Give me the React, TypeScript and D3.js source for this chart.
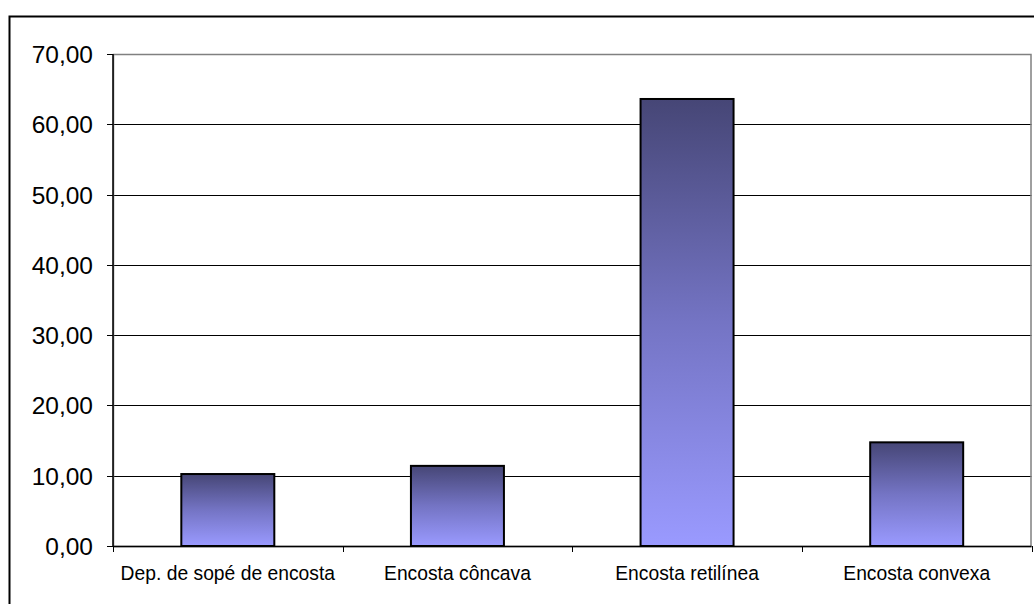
import React, { useEffect, useRef } from "react";
import * as d3 from "d3";

const categories = [
  "Dep. de sopé de encosta",
  "Encosta côncava",
  "Encosta retilínea",
  "Encosta convexa",
];
const values = [10.24, 11.4, 63.6, 14.75];
const yTicks = [0, 10, 20, 30, 40, 50, 60, 70];

export default function App() {
  const ref = useRef<SVGSVGElement | null>(null);

  useEffect(() => {
    const width = 1034;
    const height = 604;
    const left = 113;
    const right = 1031.5;
    const top = 54;
    const bottom = 546;

    const svg = d3.select(ref.current).html(null);

    const defs = svg.append("defs");
    const grad = defs
      .append("linearGradient")
      .attr("id", "barGrad")
      .attr("x1", 0)
      .attr("y1", 0)
      .attr("x2", 0)
      .attr("y2", 1);
    grad.append("stop").attr("offset", "0%").attr("stop-color", "#464676");
    grad.append("stop").attr("offset", "50%").attr("stop-color", "#7474c4");
    grad.append("stop").attr("offset", "100%").attr("stop-color", "#9a9aff");

    // outer chart frame (right and bottom edges cut off)
    svg
      .append("rect")
      .attr("x", 9.5)
      .attr("y", 16.5)
      .attr("width", width + 20)
      .attr("height", height + 20)
      .attr("fill", "white")
      .attr("stroke", "black")
      .attr("stroke-width", 2);

    const x = d3.scaleBand().domain(categories).range([left, right]).paddingInner(0.595).paddingOuter(0.2975);
    const y = d3.scaleLinear().domain([0, 70]).range([bottom, top]);

    // gridlines
    svg
      .append("g")
      .selectAll("line")
      .data(yTicks.slice(1, -1))
      .enter()
      .append("line")
      .attr("x1", left)
      .attr("x2", right)
      .attr("y1", (d) => Math.round(y(d)) + 0.5)
      .attr("y2", (d) => Math.round(y(d)) + 0.5)
      .attr("stroke", "black")
      .attr("stroke-width", 1);

    // plot area border
    svg
      .append("rect")
      .attr("x", left + 0.5)
      .attr("y", top + 0.5)
      .attr("width", right - left - 1)
      .attr("height", bottom - top)
      .attr("fill", "none")
      .attr("stroke", "#808080")
      .attr("stroke-width", 1.5);

    // bars
    svg
      .append("g")
      .selectAll("rect")
      .data(values)
      .enter()
      .append("rect")
      .attr("x", (d, i) => x(categories[i])!)
      .attr("y", (d) => y(d))
      .attr("width", x.bandwidth())
      .attr("height", (d) => bottom - y(d))
      .attr("fill", "url(#barGrad)")
      .attr("stroke", "black")
      .attr("stroke-width", 2);

    // y axis
    svg
      .append("line")
      .attr("x1", left)
      .attr("x2", left)
      .attr("y1", top)
      .attr("y2", bottom)
      .attr("stroke", "black")
      .attr("stroke-width", 1.5);
    const yAxis = svg.append("g");
    yAxis
      .selectAll("line")
      .data(yTicks)
      .enter()
      .append("line")
      .attr("x1", left - 6)
      .attr("x2", left)
      .attr("y1", (d) => Math.round(y(d)) + 0.5)
      .attr("y2", (d) => Math.round(y(d)) + 0.5)
      .attr("stroke", "black");
    yAxis
      .selectAll("text")
      .data(yTicks)
      .enter()
      .append("text")
      .attr("x", 93)
      .attr("y", (d) => y(d) + 9)
      .attr("text-anchor", "end")
      .attr("font-family", "Liberation Sans, Arial, sans-serif")
      .attr("font-size", 24.5)
      .attr("fill", "black")
      .text((d) => d3.format(".2f")(d).replace(".", ","));

    // x axis
    svg
      .append("line")
      .attr("x1", left)
      .attr("x2", right)
      .attr("y1", bottom + 0.5)
      .attr("y2", bottom + 0.5)
      .attr("stroke", "black")
      .attr("stroke-width", 1.5);
    const step = x.step();
    const boundaries = d3.range(categories.length + 1).map((i) => left + i * step);
    svg
      .append("g")
      .selectAll("line")
      .data(boundaries)
      .enter()
      .append("line")
      .attr("x1", (d) => Math.round(d) + 0.5)
      .attr("x2", (d) => Math.round(d) + 0.5)
      .attr("y1", bottom)
      .attr("y2", bottom + 6)
      .attr("stroke", "black");
    svg
      .append("g")
      .selectAll("text")
      .data(categories)
      .enter()
      .append("text")
      .attr("x", (d) => x(d)! + x.bandwidth() / 2)
      .attr("y", 580)
      .attr("text-anchor", "middle")
      .attr("font-family", "Liberation Sans, Arial, sans-serif")
      .attr("font-size", 19.3)
      .attr("fill", "black")
      .text((d) => d);
  }, []);

  return (
    <svg
      ref={ref}
      width={1034}
      height={604}
      style={{ position: "absolute", left: 0, top: 0, display: "block" }}
    />
  );
}
